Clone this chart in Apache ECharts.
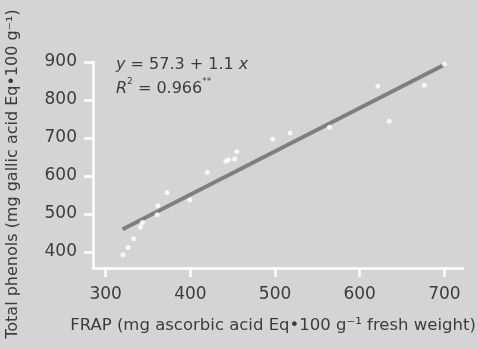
<!DOCTYPE html>
<html>
<head>
<meta charset="utf-8">
<script src="https://cdn.jsdelivr.net/npm/echarts@6/dist/echarts.min.js"></script>
<style>
  html, body { margin: 0; padding: 0; background: #d4d4d6; }
  #chart { width: 478px; height: 349px; }
</style>
</head>
<body>
<div id="chart"></div>
<script>
// FRAP vs total phenols
const frap = [320.5, 326.4, 333.1, 341.1, 343.4, 360.7, 361.5, 372.5, 399.4, 419.9,
  442.0, 445.2, 452.3, 454.8, 497.3, 517.8, 564.3, 621.5, 634.9, 676.3, 700.0]
const phenols = [393, 412, 435, 466, 478, 498, 522, 556, 537, 609,
  639, 643, 645, 664, 697, 713, 728, 836, 744, 839, 894]
// fitted line ends as drawn
const fitX = [320, 700]
const fitY = [460, 893]
const xTicks = [300, 400, 500, 600, 700]
const yTicks = [400, 500, 600, 700, 800, 900]

const textColor = '#3c3c3c'
const font = '"DejaVu Sans", sans-serif'

const chart = echarts.init(document.getElementById('chart'))

const points = frap.map((x, i) => [x, phenols[i]])
const fit = fitX.map((x, i) => [x, fitY[i]])

const option = {
  backgroundColor: '#d4d4d6',
  animation: false,
  textStyle: { fontFamily: font },
  grid: { left: 93, top: 62, right: 15, bottom: 81, containLabel: false, outerBoundsMode: 'none' },
  xAxis: {
    type: 'value',
    min: 285,
    max: 722,
    name: 'FRAP (mg ascorbic acid Eq•100 g⁻¹ fresh weight)',
    nameLocation: 'middle',
    nameGap: 49,
    nameTextStyle: { color: textColor, fontSize: 16.5, fontFamily: font, padding: [0, 10, 0, 0] },
    axisLine: { lineStyle: { color: '#ffffff', width: 2.5 } },
    axisTick: { length: 9, customValues: xTicks, lineStyle: { color: '#ffffff', width: 2.5 } },
    axisLabel: { customValues: xTicks, margin: 18, color: textColor, fontSize: 17, fontFamily: font },
    splitLine: { show: false }
  },
  yAxis: {
    type: 'value',
    min: 358,
    max: 900,
    name: 'Total phenols (mg gallic acid Eq•100 g⁻¹)',
    nameLocation: 'middle',
    nameGap: 72,
    nameTextStyle: { color: textColor, fontSize: 16, fontFamily: font, padding: [0, 18, 0, 0] },
    axisLine: { lineStyle: { color: '#ffffff', width: 2.5 } },
    axisTick: { length: 9, customValues: yTicks, lineStyle: { color: '#ffffff', width: 2.5 } },
    axisLabel: { customValues: yTicks, margin: 16, color: textColor, fontSize: 17, fontFamily: font },
    splitLine: { show: false }
  },
  graphic: [
    {
      type: 'text',
      left: 116,
      top: 53,
      style: {
        text: '{i|y} = 57.3 + 1.1 {i|x}\n{i|R}{s|2} = 0.966{s|**}',
        fill: textColor,
        font: '16px ' + font,
        lineHeight: 24,
        rich: {
          i: { fontStyle: 'italic', fontSize: 16, fill: textColor, fontFamily: font },
          s: { fontSize: 9, fill: textColor, fontFamily: font, verticalAlign: 'top', padding: [0, 0, 8, 0] }
        }
      }
    }
  ],
  series: [
    {
      type: 'line',
      data: fit,
      symbol: 'none',
      lineStyle: { color: '#7f7f7f', width: 4 },
      z: 2
    },
    {
      type: 'scatter',
      data: points,
      symbolSize: 5,
      itemStyle: { color: '#ffffff' },
      z: 3
    }
  ]
}
chart.setOption(option)
</script>
</body>
</html>
